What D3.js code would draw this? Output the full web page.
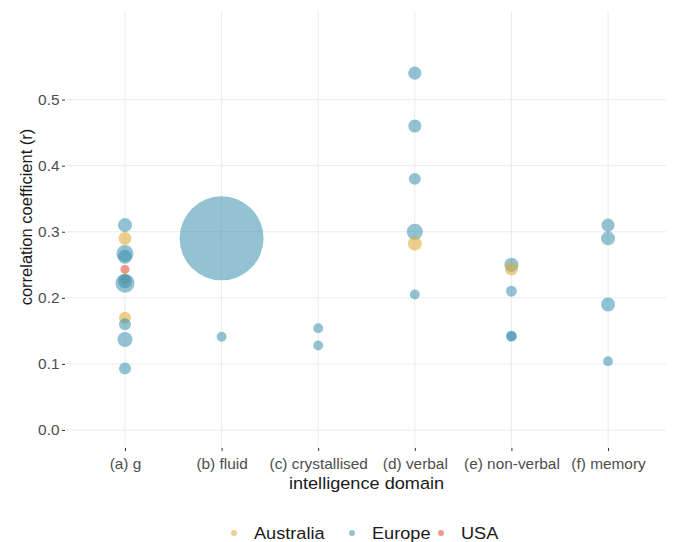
<!DOCTYPE html>
<html>
<head>
<meta charset="utf-8">
<script src="https://cdn.jsdelivr.net/npm/d3@7"></script>
<style>
  html, body { margin: 0; padding: 0; background: #ffffff; }
  svg { display: block; font-family: "Liberation Sans", Arial, Helvetica, sans-serif; }
</style>
</head>
<body>
<div id="chart"></div>
<script>
// Intelligence domains on the x axis
const domains = ["(a) g", "(b) fluid", "(c) crystallised", "(d) verbal", "(e) non-verbal", "(f) memory"];
const regions = ["Australia", "Europe", "USA"];
const regionColors = ["#dcaa2a", "#3a8fae", "#e2452c"];
const yTicks = [0.0, 0.1, 0.2, 0.3, 0.4, 0.5];

// One entry per study: domain, region, correlation r, sample size n
const pointDomain = [
  "(a) g", "(a) g", "(a) g", "(a) g", "(a) g", "(a) g", "(a) g", "(a) g", "(a) g", "(a) g", "(a) g", "(a) g",
  "(b) fluid", "(b) fluid",
  "(c) crystallised", "(c) crystallised",
  "(d) verbal", "(d) verbal", "(d) verbal", "(d) verbal", "(d) verbal", "(d) verbal",
  "(e) non-verbal", "(e) non-verbal", "(e) non-verbal", "(e) non-verbal", "(e) non-verbal",
  "(f) memory", "(f) memory", "(f) memory", "(f) memory"
];
const pointRegion = [
  "Europe", "Australia", "Europe", "Europe", "Australia", "Europe", "Europe", "USA", "Australia", "Europe", "Europe", "Europe",
  "Europe", "Europe",
  "Europe", "Europe",
  "Europe", "Europe", "Europe", "Europe", "Australia", "Europe",
  "Europe", "Australia", "Europe", "Europe", "Europe",
  "Europe", "Europe", "Europe", "Europe"
];
const pointR = [
  0.310, 0.290, 0.267, 0.262, 0.228, 0.222, 0.225, 0.243, 0.170, 0.160, 0.137, 0.093,
  0.290, 0.141,
  0.154, 0.128,
  0.540, 0.460, 0.380, 0.300, 0.282, 0.205,
  0.250, 0.244, 0.210, 0.142, 0.142,
  0.310, 0.290, 0.190, 0.104
];
const pointN = [
  2400, 2000, 3500, 2400, 1200, 4400, 2400, 1000, 1750, 1750, 2750, 1750,
  86000, 1200,
  1200, 1200,
  2100, 2100, 1750, 3100, 2400, 1200,
  2400, 2100, 1450, 1450, 1200,
  2100, 2400, 2400, 1200
];

const points = pointR.map((r, i) => ({
  domain: pointDomain[i], region: pointRegion[i], r: r, n: pointN[i]
}));

const W = 676, H = 542;
const panel = { left: 67, right: 666, top: 11, bottom: 447 };
const stretch = "scale(1.1,1)";   // slightly wide lettering

const svg = d3.select("#chart").append("svg")
  .attr("width", W).attr("height", H);

const x = d3.scalePoint()
  .domain(domains)
  .range([panel.left, panel.right])
  .padding(0.6);

const y = d3.scaleLinear()
  .domain([-0.0257, 0.634])
  .range([panel.bottom, panel.top]);

const size = d3.scaleSqrt()
  .domain([0, d3.max(pointN)])
  .range([0, 42]);

const color = d3.scaleOrdinal().domain(regions).range(regionColors);

// Grid lines
const grid = svg.append("g");
grid.selectAll("line.h").data(yTicks).join("line")
  .attr("x1", panel.left).attr("x2", panel.right)
  .attr("y1", d => y(d)).attr("y2", d => y(d))
  .attr("stroke", "#ebebeb").attr("stroke-width", 1);
grid.selectAll("line.v").data(domains).join("line")
  .attr("x1", d => x(d)).attr("x2", d => x(d))
  .attr("y1", panel.top).attr("y2", panel.bottom)
  .attr("stroke", "#ebebeb").attr("stroke-width", 1);

// Axes
const yAxis = svg.append("g")
  .attr("transform", `translate(${panel.left - 2},0)`)
  .call(d3.axisLeft(y).tickValues(yTicks).tickFormat(d3.format(".1f")).tickSize(3).tickPadding(2));
const xAxis = svg.append("g")
  .attr("transform", `translate(0,${panel.bottom + 1})`)
  .call(d3.axisBottom(x).tickSize(3).tickPadding(8));
[yAxis, xAxis].forEach(a => {
  a.select(".domain").remove();
  a.selectAll(".tick line").attr("stroke", "#333333");
  a.selectAll(".tick text").attr("fill", "#4d4d4d")
    .attr("transform", stretch)
    .style("font-size", "14px")
    .style("font-family", "'Liberation Sans', Arial, sans-serif");
});

// Points
svg.append("g").selectAll("circle").data(points).join("circle")
  .attr("cx", d => x(d.domain))
  .attr("cy", d => y(d.r))
  .attr("r", d => size(d.n))
  .attr("fill", d => color(d.region))
  .attr("fill-opacity", 0.55);

// Axis titles
svg.append("text")
  .attr("transform", `translate(${(panel.left + panel.right) / 2},489) ${stretch}`)
  .attr("text-anchor", "middle")
  .style("font-size", "16.5px").attr("fill", "#1a1a1a")
  .text("intelligence domain");
svg.append("text")
  .attr("transform", `translate(32,${(panel.top + panel.bottom) / 2 - 12}) rotate(-90)`)
  .attr("text-anchor", "middle")
  .style("font-size", "16.5px").attr("fill", "#1a1a1a")
  .text("correlation coefficient (r)");

// Legend
const legendX = [234, 352, 441];
const legend = svg.append("g").selectAll("g").data(regions).join("g")
  .attr("transform", (d, i) => `translate(${legendX[i]},533)`);
legend.append("circle")
  .attr("r", 3)
  .attr("fill", d => color(d))
  .attr("fill-opacity", 0.55);
legend.append("text")
  .attr("transform", `translate(20,6) ${stretch}`)
  .style("font-size", "16.5px").attr("fill", "#1a1a1a")
  .text(d => d);
</script>
</body>
</html>
